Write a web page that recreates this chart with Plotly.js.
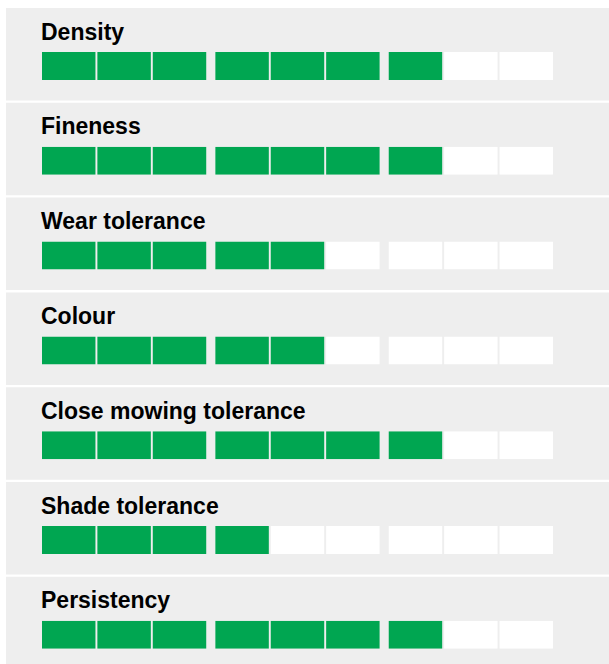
<!DOCTYPE html>
<html>
<head>
<meta charset="utf-8">
<script src="https://cdn.plot.ly/plotly-3.0.1.min.js"></script>
<style>
  html, body { margin: 0; padding: 0; background: #ffffff; }
  #chart { width: 609px; height: 664px; }
</style>
</head>
<body>
<div id="chart"></div>
<script>
// ---- data ----
const categories = ['Density', 'Fineness', 'Wear tolerance', 'Colour', 'Close mowing tolerance', 'Shade tolerance', 'Persistency'];
const ratings = [7, 7, 5, 5, 7, 4, 7];
const maxScore = 9;
const groupSize = 3;

// ---- styles / layout constants ----
const W = 609, H = 664;
const GREEN = '#00a651';
const EMPTY = '#ffffff';
const PANEL = '#eeeeee';
const panelTop = 8, panelPitch = 94.8, panelH = 92.5, panelLeft = 6;
const cellTop = 44, cellBottom = 72;     // relative to panel top
const titleMid = 23.5;                    // relative to panel top
const groupGap = 0.13, barWidth = 0.965;
const pxPerUnit = 55.39, firstCellLeftPx = 42;

const cellX = [];
for (let k = 0; k < maxScore; k++) cellX.push(k + Math.floor(k / groupSize) * groupGap);
const xmin = cellX[0] - barWidth / 2 - firstCellLeftPx / pxPerUnit;
const xmax = xmin + W / pxPerUnit;

const py = p => 1 - p / H;
const traces = [];
const layout = {
  width: W, height: H,
  margin: {l: 0, r: 0, t: 0, b: 0, pad: 0},
  paper_bgcolor: '#ffffff', plot_bgcolor: 'rgba(0,0,0,0)',
  showlegend: false,
  xaxis: {range: [xmin, xmax], visible: false, fixedrange: true, domain: [0, 1]},
  shapes: [], annotations: [],
  font: {family: '"Liberation Sans", Arial, sans-serif'}
};

categories.forEach((cat, i) => {
  const top = panelTop + i * panelPitch;
  const yName = 'yaxis' + (i === 0 ? '' : (i + 1));
  const yRef = 'y' + (i === 0 ? '' : (i + 1));
  layout[yName] = {
    domain: [py(top + cellBottom), py(top + cellTop)],
    range: [0, 1], visible: false, fixedrange: true
  };
  traces.push({
    type: 'bar',
    x: cellX,
    y: cellX.map(() => 1),
    width: barWidth,
    marker: {color: cellX.map((_, k) => k < ratings[i] ? GREEN : EMPTY), line: {width: 0}},
    xaxis: 'x', yaxis: yRef,
    hoverinfo: 'skip'
  });
  layout.shapes.push({
    type: 'rect', xref: 'paper', yref: 'paper', layer: 'below',
    x0: panelLeft / W, x1: 1,
    y0: py(top + panelH), y1: py(top),
    fillcolor: PANEL, line: {width: 0}
  });
  layout.annotations.push({
    xref: 'paper', yref: 'paper', x: 38.5 / W, y: py(top + titleMid),
    xanchor: 'left', yanchor: 'middle', showarrow: false,
    text: '<b>' + cat + '</b>',
    font: {size: 23, color: '#000000', family: '"Liberation Sans", Arial, sans-serif'}
  });
});

Plotly.newPlot('chart', traces, layout, {staticPlot: true, displayModeBar: false});
</script>
</body>
</html>
